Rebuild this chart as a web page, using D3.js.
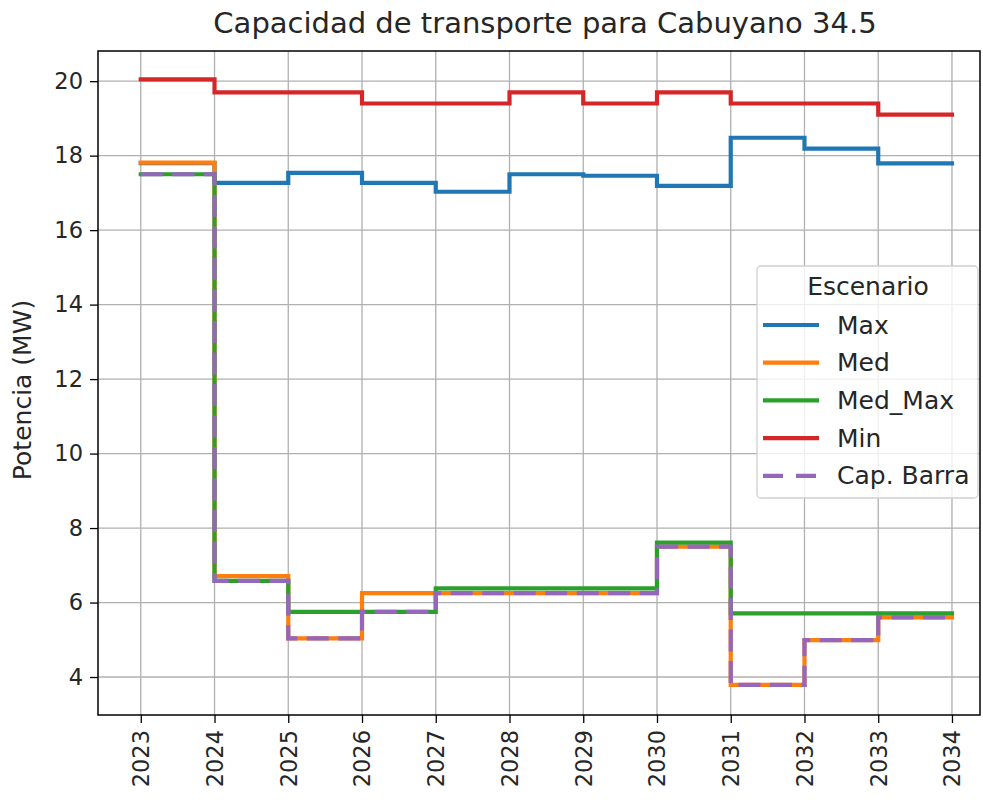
<!DOCTYPE html>
<html>
<head>
<meta charset="utf-8">
<script src="https://cdn.jsdelivr.net/npm/d3@7"></script>
<style>
  body { margin: 0; background: #fff; }
  text { font-family: "DejaVu Sans", sans-serif; fill: #262626; }
</style>
</head>
<body>
<div id="vis"></div>
<script>
const years = [2023, 2024, 2025, 2026, 2027, 2028, 2029, 2030, 2031, 2032, 2033, 2034];
const yTicks = [4, 6, 8, 10, 12, 14, 16, 18, 20];

const maxVals    = [17.8, 17.27, 17.54, 17.27, 17.03, 17.5, 17.46, 17.19, 18.48, 18.19, 17.79, 17.79];
const medVals    = [17.81, 6.71, 5.04, 6.25, 6.25, 6.25, 6.25, 7.5, 3.79, 4.99, 5.6, 5.6];
const medMaxVals = [17.5, 6.58, 5.75, 5.75, 6.38, 6.38, 6.38, 7.61, 5.71, 5.71, 5.71, 5.71];
const minVals    = [20.05, 19.7, 19.7, 19.4, 19.4, 19.7, 19.4, 19.7, 19.4, 19.4, 19.1, 19.1];
const capVals    = [17.5, 6.58, 5.04, 5.75, 6.25, 6.25, 6.25, 7.5, 3.79, 4.99, 5.6, 5.6];

const seriesNames  = ["Max", "Med", "Med_Max", "Min", "Cap. Barra"];
const seriesColors = ["#1f77b4", "#ff7f0e", "#2ca02c", "#d62728", "#9467bd"];

const W = 983, H = 802;
const margin = {top: 51, right: 3, bottom: 87, left: 98};
const width = W - margin.left - margin.right;
const height = H - margin.top - margin.bottom;

const svg = d3.select("#vis").append("svg")
  .attr("width", W)
  .attr("height", H);

const g = svg.append("g")
  .attr("transform", `translate(${margin.left},${margin.top})`);

const x = d3.scaleLinear().domain([2022.42, 2034.38]).range([0, width]);
const y = d3.scaleLinear().domain([2.98, 20.81]).range([height, 0]);

// grid
g.append("g").selectAll("line").data(years).join("line")
  .attr("x1", d => x(d)).attr("x2", d => x(d))
  .attr("y1", 0).attr("y2", height)
  .attr("stroke", "#b0b0b0").attr("stroke-width", 1.3);
g.append("g").selectAll("line").data(yTicks).join("line")
  .attr("x1", 0).attr("x2", width)
  .attr("y1", d => y(d)).attr("y2", d => y(d))
  .attr("stroke", "#b0b0b0").attr("stroke-width", 1.3);

// lines
const line = d3.line()
  .x((d, i) => x(years[i]))
  .y(d => y(d))
  .curve(d3.curveStepAfter);

const allSeries = [maxVals, medVals, medMaxVals, minVals, capVals];
allSeries.forEach((vals, k) => {
  g.append("path")
    .datum(vals)
    .attr("d", line)
    .attr("fill", "none")
    .attr("stroke", seriesColors[k])
    .attr("stroke-width", 4.2)
    .attr("stroke-dasharray", k === 4 ? "22,9.5" : null)
    .attr("stroke-linejoin", "miter")
    .attr("stroke-linecap", k === 4 ? "butt" : "square");
});

// axes
const xAxis = g.append("g")
  .attr("transform", `translate(0,${height})`)
  .call(d3.axisBottom(x).tickValues(years).tickFormat(d3.format("d")).tickSize(8).tickPadding(7));
xAxis.selectAll("text")
  .attr("transform", "rotate(-90)")
  .attr("x", -15).attr("y", 0).attr("dy", "0.35em")
  .style("text-anchor", "end");

const yAxis = g.append("g")
  .call(d3.axisLeft(y).tickValues(yTicks).tickSize(8).tickPadding(7));

[xAxis, yAxis].forEach(a => {
  a.select(".domain").remove();
  a.selectAll("line").attr("stroke", "#000").attr("stroke-width", 1.3);
  a.selectAll("text").style("font-size", "22.5px").style("font-family", "DejaVu Sans").attr("fill", "#262626");
});

// frame
g.append("rect")
  .attr("width", width).attr("height", height)
  .attr("fill", "none").attr("stroke", "#000").attr("stroke-width", 1.5);

// title and label
svg.append("text")
  .attr("x", margin.left + width / 2 + 6).attr("y", 33)
  .attr("text-anchor", "middle")
  .style("font-size", "29px")
  .text("Capacidad de transporte para Cabuyano 34.5");

svg.append("text")
  .attr("transform", `translate(31,390) rotate(-90)`)
  .attr("text-anchor", "middle")
  .style("font-size", "25px")
  .text("Potencia (MW)");

// legend
const leg = svg.append("g").attr("transform", "translate(757,266)");
leg.append("rect")
  .attr("width", 221).attr("height", 232)
  .attr("rx", 4)
  .attr("fill", "rgba(255,255,255,0.8)")
  .attr("stroke", "#d0d0d0").attr("stroke-width", 1.3);
leg.append("text")
  .attr("x", 111).attr("y", 29)
  .attr("text-anchor", "middle")
  .style("font-size", "25px")
  .text("Escenario");
seriesNames.forEach((name, k) => {
  const cy = 59 + k * 37.7;
  leg.append("line")
    .attr("x1", 6).attr("x2", 62)
    .attr("y1", cy).attr("y2", cy)
    .attr("stroke", seriesColors[k])
    .attr("stroke-width", 4.2)
    .attr("stroke-dasharray", k === 4 ? "20,13" : null)
    .attr("stroke-linecap", "butt");
  leg.append("text")
    .attr("x", 80).attr("y", cy + 8.5)
    .style("font-size", "25px")
    .text(name);
});
</script>
</body>
</html>
